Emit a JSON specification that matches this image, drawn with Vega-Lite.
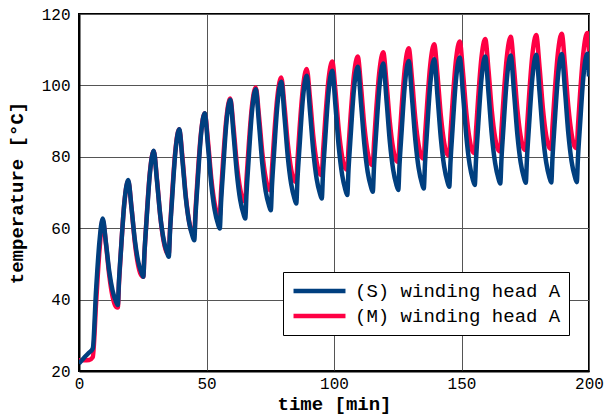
{
  "$schema": "https://vega.github.io/schema/vega-lite/v6.json",
  "width": 510,
  "height": 357,
  "autosize": "none",
  "padding": {"left": 79, "top": 14, "right": 16, "bottom": 48},
  "background": "white",
  "config": {"view": {"stroke": "#000", "strokeWidth": 2}, "font": "Liberation Mono"},
  "data": {"values": [
    {"t": 0, "S": 22.1, "M": 23.0}, {"t": 2, "S": 23.7, "M": 23.0}, {"t": 4, "S": 25.2, "M": 23.1}, {"t": 5.4, "S": 26.3, "M": 23.9}, {"t": 6.7, "S": 42.7, "M": 39.0}, {"t": 8.0, "S": 56.1, "M": 53.5},
    {"t": 9.3, "S": 62.7, "M": 62.2}, {"t": 10.6, "S": 55.7, "M": 55.4}, {"t": 11.9, "S": 47.7, "M": 46.6}, {"t": 13.2, "S": 42.4, "M": 40.7}, {"t": 14.5, "S": 39.5, "M": 38.0}, {"t": 15.2, "S": 38.5, "M": 37.8}, {"t": 15.7, "S": 45.5, "M": 44.9}, {"t": 16.5, "S": 54.3, "M": 54.4}, {"t": 17.8, "S": 67.2, "M": 67.2},
    {"t": 19.3, "S": 73.5, "M": 73.2}, {"t": 20.6, "S": 65.6, "M": 65.7}, {"t": 21.9, "S": 56.7, "M": 56.0}, {"t": 23.2, "S": 50.7, "M": 49.6}, {"t": 24.5, "S": 47.5, "M": 46.7}, {"t": 25.2, "S": 46.4, "M": 46.4}, {"t": 25.7, "S": 53.5, "M": 53.4}, {"t": 26.5, "S": 62.3, "M": 62.9}, {"t": 27.8, "S": 75.3, "M": 75.6},
    {"t": 29.3, "S": 81.7, "M": 81.6}, {"t": 30.6, "S": 73.1, "M": 73.5}, {"t": 31.9, "S": 63.3, "M": 63.2}, {"t": 33.2, "S": 56.8, "M": 56.3}, {"t": 34.5, "S": 53.2, "M": 53.1}, {"t": 35.2, "S": 52.0, "M": 52.8}, {"t": 35.7, "S": 59.1, "M": 59.8}, {"t": 36.5, "S": 68.1, "M": 69.2}, {"t": 37.8, "S": 81.3, "M": 81.8},
    {"t": 39.3, "S": 87.7, "M": 87.7}, {"t": 40.6, "S": 78.7, "M": 79.5}, {"t": 41.9, "S": 68.4, "M": 68.9}, {"t": 43.2, "S": 61.6, "M": 61.8}, {"t": 44.5, "S": 57.8, "M": 58.6}, {"t": 45.2, "S": 56.6, "M": 58.3}, {"t": 45.7, "S": 63.7, "M": 65.1}, {"t": 46.5, "S": 72.6, "M": 74.2}, {"t": 47.8, "S": 85.8, "M": 86.4},
    {"t": 49.3, "S": 92.2, "M": 92.2}, {"t": 50.6, "S": 82.8, "M": 84.2}, {"t": 51.9, "S": 72.2, "M": 73.8}, {"t": 53.2, "S": 65.1, "M": 66.9}, {"t": 54.5, "S": 61.2, "M": 63.8}, {"t": 55.2, "S": 59.9, "M": 63.5}, {"t": 55.7, "S": 67.1, "M": 70.1}, {"t": 56.5, "S": 76.1, "M": 78.9}, {"t": 57.8, "S": 89.5, "M": 90.7},
    {"t": 59.3, "S": 96.0, "M": 96.3}, {"t": 60.6, "S": 86.3, "M": 88.2}, {"t": 61.9, "S": 75.4, "M": 77.9}, {"t": 63.2, "S": 68.0, "M": 71.0}, {"t": 64.5, "S": 64.0, "M": 67.8}, {"t": 65.2, "S": 62.7, "M": 67.5}, {"t": 65.7, "S": 69.9, "M": 73.9}, {"t": 66.5, "S": 79.0, "M": 82.5}, {"t": 67.8, "S": 92.4, "M": 94.0},
    {"t": 69.3, "S": 98.9, "M": 99.4}, {"t": 70.6, "S": 89.1, "M": 91.3}, {"t": 71.9, "S": 77.9, "M": 81.0}, {"t": 73.2, "S": 70.4, "M": 74.1}, {"t": 74.5, "S": 66.4, "M": 70.9}, {"t": 75.2, "S": 65.0, "M": 70.6}, {"t": 75.7, "S": 72.2, "M": 76.9}, {"t": 76.5, "S": 81.2, "M": 85.5}, {"t": 77.8, "S": 94.5, "M": 96.8},
    {"t": 79.3, "S": 101.0, "M": 102.2}, {"t": 80.6, "S": 91.1, "M": 94.0}, {"t": 81.9, "S": 79.9, "M": 83.5}, {"t": 83.2, "S": 72.4, "M": 76.5}, {"t": 84.5, "S": 68.3, "M": 73.3}, {"t": 85.2, "S": 66.9, "M": 73.0}, {"t": 85.7, "S": 74.1, "M": 79.3}, {"t": 86.5, "S": 83.0, "M": 87.9}, {"t": 87.8, "S": 96.3, "M": 99.2},
    {"t": 89.3, "S": 102.7, "M": 104.6}, {"t": 90.6, "S": 92.7, "M": 96.3}, {"t": 91.9, "S": 81.4, "M": 85.6}, {"t": 93.2, "S": 73.8, "M": 78.5}, {"t": 94.5, "S": 69.7, "M": 75.2}, {"t": 95.2, "S": 68.3, "M": 74.9}, {"t": 95.7, "S": 75.5, "M": 81.3}, {"t": 96.5, "S": 84.4, "M": 89.8}, {"t": 97.8, "S": 97.7, "M": 101.3},
    {"t": 99.3, "S": 104.1, "M": 106.7}, {"t": 100.6, "S": 94.0, "M": 98.2}, {"t": 101.9, "S": 82.5, "M": 87.3}, {"t": 103.2, "S": 74.9, "M": 80.0}, {"t": 104.5, "S": 70.7, "M": 76.7}, {"t": 105.2, "S": 69.3, "M": 76.4}, {"t": 105.7, "S": 76.5, "M": 82.7}, {"t": 106.5, "S": 85.5, "M": 91.3}, {"t": 107.8, "S": 98.7, "M": 102.7},
    {"t": 109.3, "S": 105.2, "M": 108.1}, {"t": 110.6, "S": 95.0, "M": 99.6}, {"t": 111.9, "S": 83.5, "M": 88.6}, {"t": 113.2, "S": 75.8, "M": 81.3}, {"t": 114.5, "S": 71.6, "M": 78.0}, {"t": 115.2, "S": 70.2, "M": 77.7}, {"t": 115.7, "S": 77.4, "M": 84.0}, {"t": 116.5, "S": 86.4, "M": 92.6}, {"t": 117.8, "S": 99.6, "M": 103.9},
    {"t": 119.3, "S": 106.1, "M": 109.3}, {"t": 120.6, "S": 95.8, "M": 100.7}, {"t": 121.9, "S": 84.2, "M": 89.7}, {"t": 123.2, "S": 76.4, "M": 82.3}, {"t": 124.5, "S": 72.1, "M": 78.9}, {"t": 125.2, "S": 70.7, "M": 78.6}, {"t": 125.7, "S": 77.9, "M": 85.0}, {"t": 126.5, "S": 86.9, "M": 93.5}, {"t": 127.8, "S": 100.3, "M": 105.0},
    {"t": 129.3, "S": 106.8, "M": 110.4}, {"t": 130.6, "S": 96.4, "M": 101.7}, {"t": 131.9, "S": 84.7, "M": 90.6}, {"t": 133.2, "S": 76.8, "M": 83.2}, {"t": 134.5, "S": 72.5, "M": 79.8}, {"t": 135.2, "S": 71.1, "M": 79.5}, {"t": 135.7, "S": 78.3, "M": 85.9}, {"t": 136.5, "S": 87.4, "M": 94.5}, {"t": 137.8, "S": 100.8, "M": 106.1},
    {"t": 139.3, "S": 107.3, "M": 111.5}, {"t": 140.6, "S": 96.9, "M": 102.8}, {"t": 141.9, "S": 85.2, "M": 91.5}, {"t": 143.2, "S": 77.3, "M": 84.0}, {"t": 144.5, "S": 73.0, "M": 80.6}, {"t": 145.2, "S": 71.6, "M": 80.3}, {"t": 145.7, "S": 78.8, "M": 86.7}, {"t": 146.5, "S": 87.9, "M": 95.3}, {"t": 147.8, "S": 101.3, "M": 106.9},
    {"t": 149.3, "S": 107.8, "M": 112.3}, {"t": 150.6, "S": 97.4, "M": 103.5}, {"t": 151.9, "S": 85.7, "M": 92.3}, {"t": 153.2, "S": 77.8, "M": 84.8}, {"t": 154.5, "S": 73.5, "M": 81.3}, {"t": 155.2, "S": 72.1, "M": 81.0}, {"t": 155.7, "S": 79.3, "M": 87.4}, {"t": 156.5, "S": 88.3, "M": 96.0}, {"t": 157.8, "S": 101.6, "M": 107.6},
    {"t": 159.3, "S": 108.1, "M": 113.0}, {"t": 160.6, "S": 97.8, "M": 104.2}, {"t": 161.9, "S": 86.0, "M": 92.8}, {"t": 163.2, "S": 78.2, "M": 85.3}, {"t": 164.5, "S": 73.9, "M": 81.8}, {"t": 165.2, "S": 72.5, "M": 81.5}, {"t": 165.7, "S": 79.7, "M": 87.9}, {"t": 166.5, "S": 88.7, "M": 96.6}, {"t": 167.8, "S": 101.9, "M": 108.1},
    {"t": 169.3, "S": 108.4, "M": 113.6}, {"t": 170.6, "S": 98.0, "M": 104.7}, {"t": 171.9, "S": 86.3, "M": 93.3}, {"t": 173.2, "S": 78.4, "M": 85.7}, {"t": 174.5, "S": 74.1, "M": 82.2}, {"t": 175.2, "S": 72.7, "M": 81.9}, {"t": 175.7, "S": 79.9, "M": 88.3}, {"t": 176.5, "S": 88.9, "M": 97.0}, {"t": 177.8, "S": 102.1, "M": 108.6},
    {"t": 179.3, "S": 108.6, "M": 114.1}, {"t": 180.6, "S": 98.2, "M": 105.2}, {"t": 181.9, "S": 86.4, "M": 93.7}, {"t": 183.2, "S": 78.5, "M": 86.0}, {"t": 184.5, "S": 74.2, "M": 82.5}, {"t": 185.2, "S": 72.8, "M": 82.2}, {"t": 185.7, "S": 80.0, "M": 88.7}, {"t": 186.5, "S": 89.0, "M": 97.4}, {"t": 187.8, "S": 102.3, "M": 109.0},
    {"t": 189.3, "S": 108.8, "M": 114.5}, {"t": 190.6, "S": 98.4, "M": 105.5}, {"t": 191.9, "S": 86.5, "M": 94.0}, {"t": 193.2, "S": 78.6, "M": 86.3}, {"t": 194.5, "S": 74.3, "M": 82.7}, {"t": 195.2, "S": 72.9, "M": 82.4}, {"t": 195.7, "S": 80.1, "M": 88.9}, {"t": 196.5, "S": 89.1, "M": 97.6}, {"t": 197.8, "S": 102.4, "M": 109.2},
    {"t": 199.3, "S": 108.9, "M": 114.7}, {"t": 200, "S": 102.5, "M": 109.5}
  ]},
  "transform": [{"fold": ["M", "S"], "as": ["series", "temp"]}],
  "mark": {"type": "line", "interpolate": "monotone", "strokeWidth": 4.5, "clip": true},
  "encoding": {
    "x": {
      "field": "t", "type": "quantitative",
      "scale": {"domain": [0, 200], "nice": false, "zero": false},
      "axis": {
        "values": [0, 50, 100, 150, 200], "title": "time [min]",
        "grid": true, "gridColor": "#555", "gridWidth": 1, "gridOpacity": 1,
        "domainColor": "#000", "domainWidth": 2, "ticks": false,
        "labelFont": "Liberation Mono", "labelFontSize": 16, "labelColor": "#000", "labelPadding": 4, "labelFlush": false,
        "titleFont": "Liberation Mono", "titleFontSize": 19, "titleFontWeight": "bold", "titleColor": "#000", "titlePadding": 3
      }
    },
    "y": {
      "field": "temp", "type": "quantitative",
      "scale": {"domain": [20, 120], "nice": false, "zero": false},
      "axis": {
        "values": [20, 40, 60, 80, 100, 120], "title": "temperature [°C]",
        "grid": true, "gridColor": "#555", "gridWidth": 1, "gridOpacity": 1,
        "domainColor": "#000", "domainWidth": 2, "ticks": false,
        "labelFont": "Liberation Mono", "labelFontSize": 16, "labelColor": "#000", "labelPadding": 9, "labelFlush": false,
        "titleFont": "Liberation Mono", "titleFontSize": 19, "titleFontWeight": "bold", "titleColor": "#000", "titlePadding": 15
      }
    },
    "color": {
      "field": "series", "type": "nominal",
      "scale": {"domain": ["S", "M"], "range": ["#003F7F", "#FF0044"]},
      "legend": {
        "orient": "none", "legendX": 204, "legendY": 258, "title": null,
        "fillColor": "#fff", "strokeColor": "#000", "padding": 8, "cornerRadius": 0,
        "symbolType": "stroke", "symbolStrokeWidth": 4.5, "symbolSize": 2700,
        "clipHeight": 22, "rowPadding": 3,
        "labelFont": "Liberation Mono", "labelFontSize": 19, "labelColor": "#000", "labelOffset": 7, "labelLimit": 400,
        "labelExpr": "datum.label == 'S' ? '(S) winding head A' : '(M) winding head A'"
      }
    }
  }
}
